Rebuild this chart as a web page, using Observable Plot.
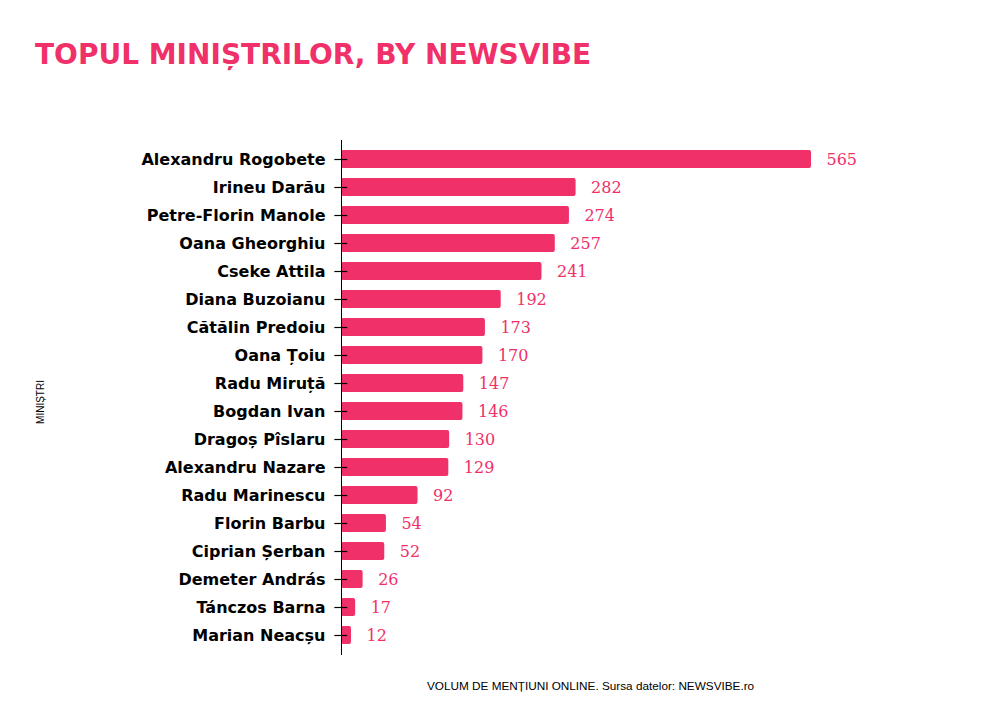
<!DOCTYPE html>
<html>
<head>
<meta charset="utf-8">
<script src="https://cdn.jsdelivr.net/npm/d3@7"></script>
<script src="https://cdn.jsdelivr.net/npm/@observablehq/plot@0.6"></script>
<style>
  body { margin: 0; background: #fff; width: 992px; }
  #title { height: 100px; position: relative; }
  #title span { position: absolute; left: 35px; top: 41px; font: bold 28px "DejaVu Sans"; line-height: 28px; color: #F03068; white-space: nowrap; }
  #footer { height: 31px; position: relative; }
  #footer span { position: absolute; left: 427px; top: 0; font: 11.75px "Liberation Sans"; line-height: 22px; color: #000; white-space: nowrap; }
  svg { display: block; }
</style>
</head>
<body>
<div id="title"><span>TOPUL MINIȘTRILOR, BY NEWSVIBE</span></div>
<div id="chart"></div>
<div id="footer"><span>VOLUM DE MENȚIUNI ONLINE. Sursa datelor: NEWSVIBE.ro</span></div>
<script>
const ministri = ["Alexandru Rogobete","Irineu Darău","Petre-Florin Manole","Oana Gheorghiu","Cseke Attila","Diana Buzoianu","Cătălin Predoiu","Oana Țoiu","Radu Miruță","Bogdan Ivan","Dragoș Pîslaru","Alexandru Nazare","Radu Marinescu","Florin Barbu","Ciprian Șerban","Demeter András","Tánczos Barna","Marian Neacșu"];
const mentiuni = [565,282,274,257,241,192,173,170,147,146,130,129,92,54,52,26,17,12];
const axisTitle = "MINIȘTRI";
const pink = "#F03068";

const data = ministri.map((name, i) => ({name, v: mentiuni[i]}));

const chart = Plot.plot({
  width: 992,
  height: 575,
  marginLeft: 341,
  marginRight: 181,
  marginTop: 40,
  marginBottom: 20,
  x: {domain: [0, 565], axis: null},
  y: {domain: ministri, paddingInner: 0.356, paddingOuter: 0.32, axis: null},
  marks: [
    Plot.barX(data, {x: "v", y: "name", fill: pink, rx: 2}),
    Plot.ruleX([0], {stroke: "#000", strokeWidth: 1}),
    Plot.ruleY(ministri, {y: d => d, x1: () => -8, x2: () => 7.5, stroke: "#000", strokeWidth: 1.2}),
    Plot.axisY({tickSize: 0, tickPadding: 16, fontSize: 16, fontWeight: "bold", fontFamily: "DejaVu Sans", fill: "#000", label: null}),
    Plot.text(data, {x: "v", y: "name", text: d => String(d.v), dx: 15, textAnchor: "start", fill: pink, fontFamily: "DejaVu Serif", fontSize: 16}),
    Plot.text([axisTitle], {frameAnchor: "left", dx: -301, dy: 4, rotate: -90, textAnchor: "middle", fontSize: 10, fontFamily: "Liberation Sans", fill: "#000"})
  ]
});
document.getElementById("chart").appendChild(chart);
</script>
</body>
</html>
